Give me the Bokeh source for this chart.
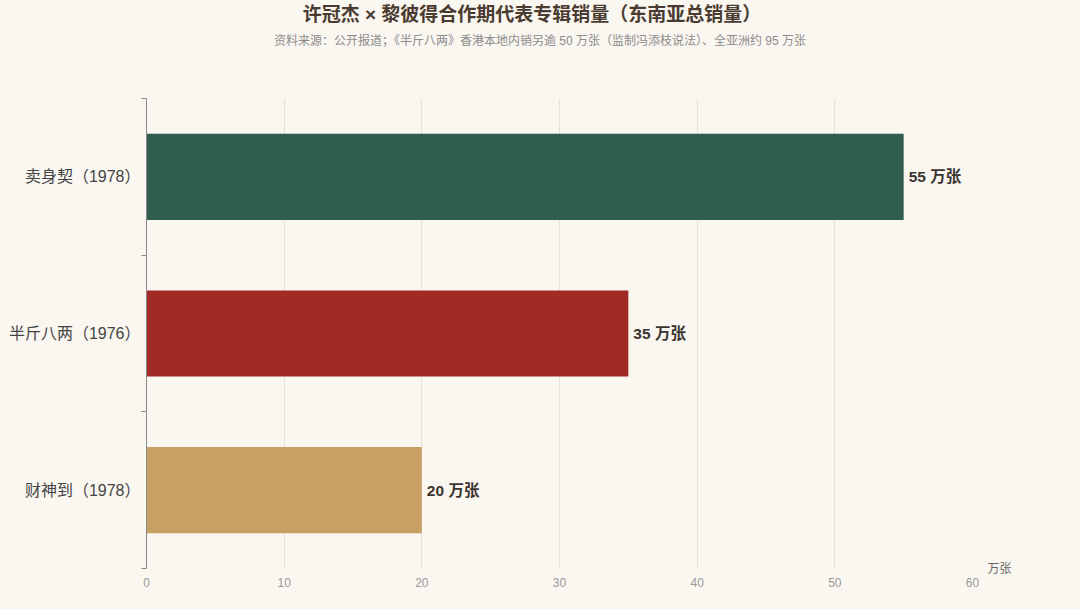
from bokeh.plotting import figure
from bokeh.models import ColumnDataSource, FixedTicker, Div, Range1d, LabelSet, LinearAxis
from bokeh.layouts import column
from bokeh.embed import file_html
from bokeh.resources import INLINE
from bokeh.core.properties import value

# ---- data ----
albums = ["卖身契（1978）", "半斤八两（1976）", "财神到（1978）"]
sales = [55, 35, 20]
colors = ["#2f5e4f", "#a12a26", "#c8a063"]
x_ticks = [0, 10, 20, 30, 40, 50, 60]
unit = "万张"
title_text = "许冠杰 × 黎彼得合作期代表专辑销量（东南亚总销量）"
subtitle_text = "资料来源：公开报道；《半斤八两》香港本地内销另逾 50 万张（监制冯添枝说法）、全亚洲约 95 万张"

BG = "#faf6f0"
FONT = "Liberation Sans, Noto Sans CJK SC, sans-serif"

n = len(albums)
ypos = [n - i - 0.5 for i in range(n)]
labels = [f"{v} {unit}" for v in sales]

src = ColumnDataSource(dict(y=ypos, x=sales, color=colors, label=labels))

head = Div(
    text=(
        f'<div style="width:1032px;padding-left:32px;text-align:center;font-family:{FONT};">'
        f'<div style="font-size:19px;font-weight:bold;color:#4a3b30;line-height:24px;padding-top:3px;">{title_text}</div>'
        f'<div style="font-size:12px;color:#8c8c8c;line-height:14px;margin-top:7px;padding-left:16px;">{subtitle_text}</div>'
        '</div>'
    ),
    width=1064, height=60, margin=(0, 0, 0, 0),
    styles={"background-color": BG},
)

p = figure(
    width=1064, height=541,
    x_range=Range1d(0, 60), y_range=Range1d(0, n),
    output_backend="svg", toolbar_location=None,
    min_border_left=146, min_border_right=92,
    min_border_top=38, min_border_bottom=33,
    background_fill_color=BG, border_fill_color=BG,
)
p.outline_line_color = None

p.hbar(y="y", right="x", left=0, height=0.55, fill_color="color",
       line_color=None, source=src)

p.add_layout(LabelSet(x="x", y="y", text="label", source=src,
                      x_offset=5, text_baseline="middle",
                      text_font=value(FONT), text_font_size="15.5px",
                      text_font_style="bold", text_color="#3b3430"))

# x axis
p.xaxis.ticker = FixedTicker(ticks=x_ticks)
p.xaxis.axis_line_color = None
p.xaxis.major_tick_line_color = None
p.xaxis.minor_tick_line_color = None
p.xaxis.major_label_text_color = "#999999"
p.xaxis.major_label_text_font = FONT
p.xaxis.major_label_text_font_size = "12px"
p.xaxis.major_label_standoff = 3
p.xgrid.ticker = FixedTicker(ticks=x_ticks[1:])
p.xgrid.grid_line_color = "#e6e1d9"

# y axis
p.yaxis.ticker = FixedTicker(ticks=ypos, minor_ticks=list(range(n + 1)))
p.yaxis.major_label_overrides = {y: a for y, a in zip(ypos, albums)}
p.yaxis.axis_line_color = "#8a8a8a"
p.yaxis.major_tick_line_color = None
p.yaxis.minor_tick_line_color = "#8a8a8a"
p.yaxis.minor_tick_out = 5
p.yaxis.minor_tick_in = 0
p.yaxis.major_label_text_color = "#444444"
p.yaxis.major_label_text_font = FONT
p.yaxis.major_label_text_font_size = "16px"
p.yaxis.major_label_standoff = 0
p.ygrid.grid_line_color = None

# unit name at the end of the x axis
unit_axis = LinearAxis(ticker=FixedTicker(ticks=[0]),
                       major_label_overrides={0: unit},
                       axis_line_color=None, major_tick_line_color=None,
                       minor_tick_line_color=None, major_label_standoff=9,
                       major_label_text_font=FONT,
                       major_label_text_font_size="12px",
                       major_label_text_color="#666666")
p.add_layout(unit_axis, "right")

layout = column(head, p, spacing=0, styles={"background-color": BG})

html = file_html(layout, INLINE, title="chart")
html = html.replace("<head>", f"<head><style>body{{background:{BG};}}</style>", 1)
open("out.html", "w").write(html)
